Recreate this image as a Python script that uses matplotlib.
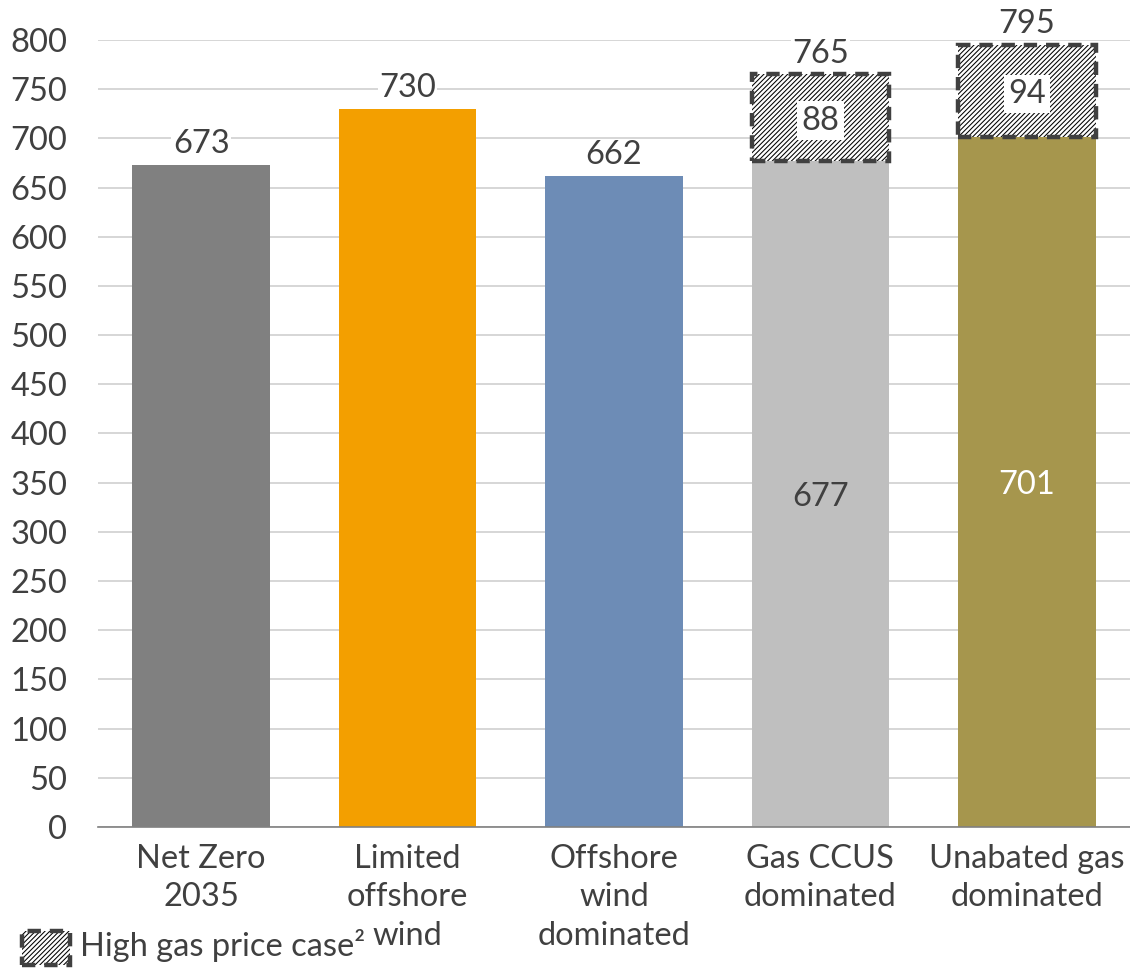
import matplotlib
import matplotlib.pyplot as plt
from matplotlib.patches import Rectangle

matplotlib.use('Agg')

escenarios = ['Net Zero\n2035', 'Limited\noffshore\nwind', 'Offshore\nwind\ndominated',
              'Gas CCUS\ndominated', 'Unabated gas\ndominated']
costes = [673, 730, 662, 677, 701]
extra_gas = [0, 0, 0, 88, 94]
colores = ['#808080', '#F39F00', '#6D8CB6', '#BFBFBF', '#A6964D']

texto = '#404040'
fs = 23.5
plt.rcParams['font.family'] = ['Lato', 'DejaVu Sans']
plt.rcParams['hatch.linewidth'] = 0.75

fig = plt.figure(figsize=(11.3, 9.68), dpi=100)
ax = fig.add_axes([0.0867, 0.1457, 0.9133, 0.813])

x = range(len(escenarios))
ancho = 0.667

ax.bar(x, costes, width=ancho, color=colores, zorder=2)

# caso de precio alto del gas, encima de las barras
ax.bar(x, extra_gas, width=ancho, bottom=costes, facecolor='white',
       edgecolor='black', hatch='///////', linewidth=0, zorder=3)
for i in x:
    if extra_gas[i] > 0:
        ax.bar(i, extra_gas[i], width=ancho, bottom=costes[i], fill=False,
               edgecolor='#404040', linewidth=3.2, linestyle=(0, (3, 2)), zorder=4)

# etiquetas de valores
for i in x:
    total = costes[i] + extra_gas[i]
    ax.text(i, total + 6, f'{total}', ha='center', va='bottom', fontsize=fs,
            color=texto, zorder=5,
            bbox=dict(facecolor='white', edgecolor='none', pad=1))
    if extra_gas[i] > 0:
        ax.text(i, costes[i] + extra_gas[i] / 2, f'{extra_gas[i]}', ha='center',
                va='center_baseline', fontsize=fs, color=texto, zorder=5,
                bbox=dict(facecolor='white', edgecolor='none', pad=3))
        color_in = 'white' if i == 4 else texto
        ax.text(i, costes[i] / 2, f'{costes[i]}', ha='center', va='center_baseline',
                fontsize=fs, color=color_in, zorder=5)

ax.set_xlim(-0.5, 4.5)
ax.set_ylim(0, 800)
ax.set_yticks(range(0, 801, 50))
ax.yaxis.grid(True, color='#D0D0D0', linewidth=1.2, zorder=0)
ax.set_axisbelow(True)
for lado in ['top', 'right', 'left']:
    ax.spines[lado].set_visible(False)
ax.spines['bottom'].set_color('#808080')
ax.spines['bottom'].set_linewidth(1.2)
ax.tick_params(axis='both', length=0, labelsize=fs, colors=texto)
ax.tick_params(axis='y', pad=22)
ax.tick_params(axis='x', pad=12)
ax.set_xticks(list(x))
ax.set_xticklabels(escenarios, linespacing=1.36)

# leyenda
fig.patches.append(Rectangle((22 / 1130, 1 - 965 / 968), 48 / 1130, 34 / 968,
                             transform=fig.transFigure, facecolor='white',
                             edgecolor='black', hatch='///////', linewidth=0))
fig.patches.append(Rectangle((22 / 1130, 1 - 965 / 968), 48 / 1130, 34 / 968,
                             transform=fig.transFigure, fill=False,
                             edgecolor='#404040', linewidth=3.2,
                             linestyle=(0, (3, 2))))
fig.text(80 / 1130, 1 - 946 / 968, 'High gas price case²', fontsize=fs,
         color=texto, va='center', ha='left')

fig.savefig('out.png', dpi=100)
